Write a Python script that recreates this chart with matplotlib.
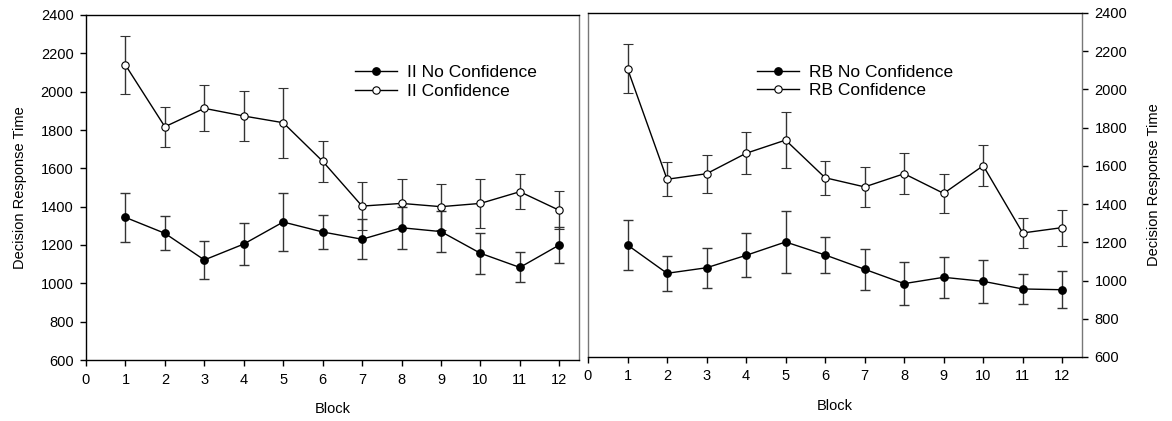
import matplotlib
matplotlib.use("Agg")
import matplotlib.pyplot as plt

plt.rcParams['font.family'] = ['Liberation Sans', 'DejaVu Sans']

blocks = [1, 2, 3, 4, 5, 6, 7, 8, 9, 10, 11, 12]

# II panel
ii_noconf = [1344, 1261, 1122, 1205, 1320, 1268, 1230, 1290, 1270, 1157, 1083, 1200]
ii_noconf_err = [127, 88, 100, 110, 153, 89, 105, 110, 105, 108, 78, 96]
ii_conf = [2139, 1817, 1913, 1873, 1838, 1637, 1403, 1417, 1400, 1417, 1478, 1381]
ii_conf_err = [150, 104, 120, 132, 182, 107, 125, 127, 120, 128, 92, 100]

# RB panel
rb_noconf = [1186, 1038, 1067, 1132, 1202, 1134, 1059, 984, 1017, 996, 956, 952]
rb_noconf_err = [132, 92, 104, 115, 160, 94, 108, 113, 107, 112, 78, 97]
rb_conf = [2109, 1530, 1559, 1666, 1735, 1538, 1490, 1559, 1456, 1601, 1249, 1277]
rb_conf_err = [128, 88, 100, 110, 145, 90, 104, 108, 102, 108, 77, 94]

W, H = 1172, 421
fig = plt.figure(figsize=(W / 100, H / 100), dpi=100)
ax1 = fig.add_axes([86 / W, (H - 360) / H, (579 - 86) / W, 345 / H])
ax2 = fig.add_axes([588 / W, (H - 357) / H, (1082 - 588) / W, 344 / H])


def draw(ax, nc, nce, c, ce, lab_nc, lab_c):
    ebkw = dict(ecolor='#333333', elinewidth=1, capsize=3.7, capthick=1)
    ax.errorbar(blocks, nc, yerr=nce, fmt='-o', color='black', lw=1,
                ms=5.3, mfc='black', mec='black', label=lab_nc, zorder=3, **ebkw)
    ax.errorbar(blocks, c, yerr=ce, fmt='-o', color='black', lw=1,
                ms=5.3, mfc='white', mec='black', mew=0.8, label=lab_c, zorder=3, **ebkw)
    ax.set_xlim(0, 12.5)
    ax.set_ylim(600, 2400)
    ax.set_xticks(range(0, 13))
    ax.set_yticks(range(600, 2401, 200))
    ax.tick_params(direction='out', length=4, width=1, labelsize=10.5, pad=5)
    ax.set_xlabel('Block', fontsize=10.5, labelpad=11)
    for s in ax.spines.values():
        s.set_linewidth(1)
    h, l = ax.get_legend_handles_labels()
    h = [x[0] for x in h]
    return h, l


h, l = draw(ax1, ii_noconf, ii_noconf_err, ii_conf, ii_conf_err,
            'II No Confidence', 'II Confidence')
ax1.set_ylabel('Decision Response Time', fontsize=10.5, labelpad=10)
ax1.spines['right'].set_color('#777777')
ax1.legend(h, l, loc='upper left', bbox_to_anchor=(0.546, 0.855), frameon=False,
           fontsize=12.5, borderpad=0, borderaxespad=0, handlelength=2.4,
           handletextpad=0.6, labelspacing=0.2)

h, l = draw(ax2, rb_noconf, rb_noconf_err, rb_conf, rb_conf_err,
            'RB No Confidence', 'RB Confidence')
ax2.yaxis.tick_right()
ax2.yaxis.set_label_position('right')
ax2.set_ylabel('Decision Response Time', fontsize=10.5, labelpad=14)
ax2.spines['left'].set_color('#777777')
ax2.spines['right'].set_color('#777777')
ax2.legend(h, l, loc='upper left', bbox_to_anchor=(0.342, 0.85), frameon=False,
           fontsize=12.5, borderpad=0, borderaxespad=0, handlelength=2.4,
           handletextpad=0.6, labelspacing=0.2)

fig.savefig('out.png', dpi=100)
